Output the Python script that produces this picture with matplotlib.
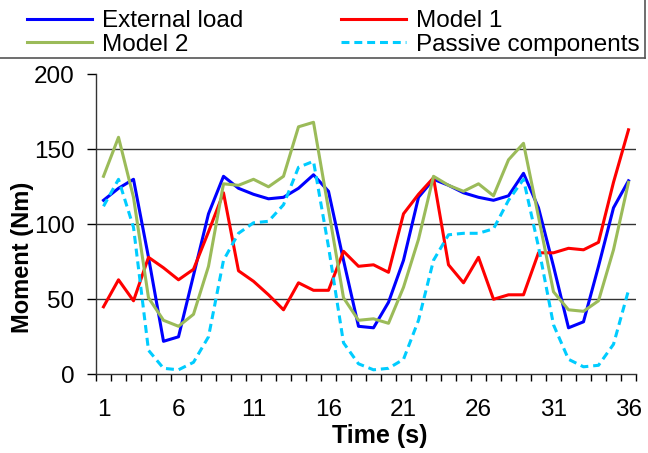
import matplotlib.pyplot as plt
from matplotlib.lines import Line2D

plt.rcParams['font.family'] = ['Liberation Sans', 'DejaVu Sans']

# valores (um ponto por segundo)
tempo = list(range(1, 37))
carga_externa = [116, 124, 130, 78, 22, 25, 66, 107, 132, 124, 120, 117, 118, 124, 133, 122, 76, 32,
                 31, 48, 76, 118, 130, 126, 121, 118, 116, 119, 134, 111, 72, 31, 35, 72, 111, 129]
modelo_1 = [45, 63, 49, 78, 71, 63, 70, 95, 121, 69, 62, 53, 43, 61, 56, 56, 82, 72,
            73, 68, 107, 120, 131, 73, 61, 78, 50, 53, 53, 81, 81, 84, 83, 88, 128, 163]
modelo_2 = [132, 158, 118, 51, 36, 32, 40, 72, 127, 126, 130, 125, 132, 165, 168, 110, 51, 36,
            37, 34, 58, 90, 132, 126, 122, 127, 119, 143, 154, 105, 55, 43, 42, 49, 83, 128]
passivos = [112, 130, 98, 16, 4, 3, 8, 25, 76, 94, 101, 102, 113, 138, 142, 85, 21, 7,
            3, 4, 10, 36, 76, 93, 94, 94, 97, 116, 130, 85, 33, 10, 5, 6, 20, 56]
rotulos_x = [1, 6, 11, 16, 21, 26, 31, 36]
ticks_y = [0, 50, 100, 150, 200]

fig = plt.figure(figsize=(6.48, 4.53), dpi=100)
ax = fig.add_axes([96 / 648, 1 - 374.3 / 453, 540 / 648, 300 / 453])

for y in [50, 100, 150]:
    ax.axhline(y, color='#333333', lw=1.0, zorder=1)

l1, = ax.plot(tempo, carga_externa, color='#0000FF', lw=2.2, label='External load', zorder=3)
l2, = ax.plot(tempo, modelo_1, color='#FF0000', lw=2.2, label='Model 1', zorder=3)
l3, = ax.plot(tempo, modelo_2, color='#9BBB59', lw=2.2, label='Model 2', zorder=3)
l4, = ax.plot(tempo, passivos, color='#00CCFF', lw=2.2, ls=(0, (2.6, 1.6)),
              label='Passive components', zorder=3)

ax.set_xlim(0.5, 36.5)
ax.set_ylim(0, 200)
ax.set_xticks(rotulos_x)
ax.set_xticklabels([str(v) for v in rotulos_x])
ax.set_xticks([i + 0.5 for i in range(0, 37)], minor=True)
ax.tick_params(axis='x', which='major', length=0, pad=18, labelsize=17.5)
ax.tick_params(axis='x', which='minor', length=5, width=1, direction='out')
ax.set_yticks(ticks_y)
ax.tick_params(axis='y', length=6.5, width=1, direction='out', labelsize=17.5, pad=9)

for s in ['top', 'right']:
    ax.spines[s].set_visible(False)
for s in ['left', 'bottom']:
    ax.spines[s].set_color('#333333')
    ax.spines[s].set_linewidth(1.0)

ax.set_xlabel('Time (s)', fontsize=18, fontweight='bold')
ax.set_ylabel('Moment (Nm)', fontsize=17, fontweight='bold')
ax.xaxis.set_label_coords(0.526, -0.165)
ax.yaxis.set_label_coords(-0.115, 0.39)

# legenda no topo, em duas colunas (ordem por linha como no original)
fig.legend(handles=[l1, l3, l2, l4], ncol=2, loc='lower right',
           bbox_to_anchor=(642 / 648, 1 - 58 / 453), frameon=False, fontsize=17.5,
           handlelength=2.7, handletextpad=0.4, columnspacing=4.0, labelspacing=0.05,
           borderaxespad=0, borderpad=0.1)
fig.add_artist(Line2D([0, 645 / 648], [1 - 58 / 453, 1 - 58 / 453], transform=fig.transFigure,
                      color='#555555', lw=1.2))
fig.add_artist(Line2D([645 / 648, 645 / 648], [1 - 58 / 453, 1], transform=fig.transFigure,
                      color='#555555', lw=1.2))

fig.savefig('out.png', dpi=100)
